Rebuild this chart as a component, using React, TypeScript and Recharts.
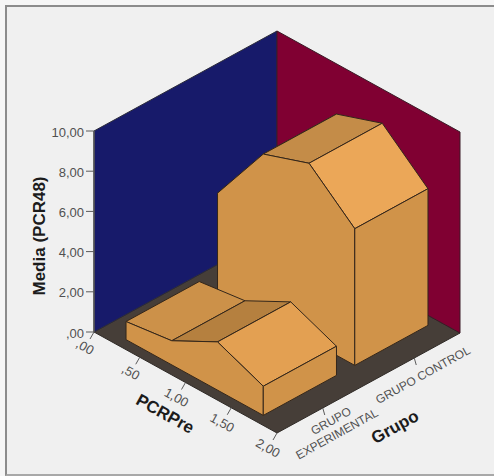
import React from 'react';
import { ScatterChart, Scatter, XAxis, YAxis } from 'recharts';

const pcrPreCenters = [0.25, 0.75, 1.25, 1.75];
const experimentalMeans = [0.9, 1.2, 2.4, 1.45];
const controlMeans = [4.8, 8.0, 8.8, 6.8];

const meanTicks = [0, 2, 4, 6, 8, 10];
const meanTickLabels = [',00', '2,00', '4,00', '6,00', '8,00', '10,00'];
const pcrPreTicks = [0, 0.5, 1, 1.5, 2];
const pcrPreTickLabels = [',00', ',50', '1,00', '1,50', '2,00'];
const grupoTicks = [0.25, 0.75];

// depth of each ribbon along the Grupo axis (0 = front edge, 1 = back edge)
const experimentalBand = [0.05, 0.45];
const controlBand = [0.55, 0.95];

const experimentalTops = ['#cc9149', '#b5803f', '#e3a052'];
const controlTops = ['#c48c48', '#c48c48', '#eba758'];
const wallColor = '#d09349';
const capColor = '#d09349';

const WIDTH = 494;
const HEIGHT = 476;
const SKEW = 29;

type Pt = { x: number; y: number };

// oblique projection from (PCRPre, Grupo, mean) to chart units
const project = (p: number, g: number, v: number): Pt => ({
  x: 94 + p * 91.5 + g * 183,
  y: 332 + p * 50.5 - g * 100 - v * 20.1,
});

const ribbonFaces = (means: number[], band: number[], tops: string[]) => {
  const [near, far] = band;
  const faces: { pts: Pt[]; fill: string }[] = [];
  tops.forEach((fill, i) => {
    faces.push({
      fill,
      pts: [
        project(pcrPreCenters[i], near, means[i]),
        project(pcrPreCenters[i], far, means[i]),
        project(pcrPreCenters[i + 1], far, means[i + 1]),
        project(pcrPreCenters[i + 1], near, means[i + 1]),
      ],
    });
  });
  const last = pcrPreCenters.length - 1;
  faces.push({
    fill: wallColor,
    pts: [
      project(pcrPreCenters[0], near, 0),
      ...pcrPreCenters.map((p, i) => project(p, near, means[i])),
      project(pcrPreCenters[last], near, 0),
    ],
  });
  faces.push({
    fill: capColor,
    pts: [
      project(pcrPreCenters[last], near, 0),
      project(pcrPreCenters[last], near, means[last]),
      project(pcrPreCenters[last], far, means[last]),
      project(pcrPreCenters[last], far, 0),
    ],
  });
  return faces;
};

const noDot = () => <g />;

const Face = ({ pts, fill, stroke }: { pts: Pt[]; fill: string; stroke: string }) => (
  <Scatter
    data={[...pts, pts[0]]}
    isAnimationActive={false}
    shape={noDot}
    legendType="none"
    line={{ fill, stroke, strokeWidth: 1, strokeLinejoin: 'round' }}
  />
);

const Segment = ({ a, b, stroke = '#5a5a5a', width = 1 }: { a: Pt; b: Pt; stroke?: string; width?: number }) => (
  <Scatter
    data={[a, b]}
    isAnimationActive={false}
    shape={noDot}
    legendType="none"
    line={{ stroke, strokeWidth: width, fill: 'none' }}
  />
);

const Caption = ({
  at,
  text,
  angle,
  size = 13,
  bold = false,
  anchor = 'middle',
}: {
  at: Pt;
  text: string;
  angle: number;
  size?: number;
  bold?: boolean;
  anchor?: string;
}) => (
  <Scatter
    data={[at]}
    isAnimationActive={false}
    legendType="none"
    shape={(props: any) => (
      <text
        x={props.cx}
        y={props.cy}
        transform={`rotate(${angle} ${props.cx} ${props.cy})`}
        textAnchor={anchor as any}
        dominantBaseline="central"
        fontFamily="Liberation Sans, Arial, sans-serif"
        fontSize={size}
        fontWeight={bold ? 700 : 400}
        fill={bold ? '#1c1c1c' : '#505050'}
      >
        {text}
      </text>
    )}
  />
);

export default function App() {
  const leftWall = [project(0, 0, 0), project(0, 0, 10), project(0, 1, 10), project(0, 1, 0)];
  const rightWall = [project(0, 1, 0), project(0, 1, 10), project(2, 1, 10), project(2, 1, 0)];
  const floor = [project(0, 0, 0), project(0, 1, 0), project(2, 1, 0), project(2, 0, 0)];
  const faces = [
    ...ribbonFaces(controlMeans, controlBand, controlTops),
    ...ribbonFaces(experimentalMeans, experimentalBand, experimentalTops),
  ];

  return (
    <div style={{ position: 'absolute', left: 0, top: 0, width: WIDTH, height: HEIGHT, background: '#f6f6f6', overflow: 'hidden' }}>
      {/* panel with its frame open on the right */}
      <div
        style={{
          position: 'absolute',
          left: 5,
          top: 5,
          right: 0,
          bottom: 0,
          background: '#f0f0f0',
          borderLeft: '2px solid #8c8c8c',
          borderTop: '2px solid #8c8c8c',
          borderBottom: '2px solid #a8a8a8',
        }}
      />
      <div style={{ position: 'absolute', left: 0, top: 0 }}>
        <ScatterChart width={WIDTH} height={HEIGHT} margin={{ top: 0, right: 0, bottom: 0, left: 0 }}>
          <XAxis type="number" dataKey="x" domain={[0, WIDTH]} hide />
          <YAxis type="number" dataKey="y" domain={[0, HEIGHT]} reversed hide />

          {Face({ pts: floor, fill: '#463e38', stroke: '#2f2a26' })}
          {Face({ pts: leftWall, fill: '#171a6a', stroke: '#2a2a3a' })}
          {Face({ pts: rightWall, fill: '#800032', stroke: '#3a1a26' })}

          {meanTicks.map((v) =>
            Segment({ a: { x: project(0, 0, v).x - 8, y: project(0, 0, v).y }, b: project(0, 0, v) }),
          )}
          {Segment({ a: project(0, 0, 0), b: project(0, 0, 10), width: 1.5 })}
          {pcrPreTicks.map((p) => {
            const o = project(p, 0, 0);
            return Segment({ a: o, b: { x: o.x - 4, y: o.y + 7 } });
          })}
          {grupoTicks.map((g) => {
            const o = project(2, g, 0);
            return Segment({ a: o, b: { x: o.x + 2, y: o.y + 7 } });
          })}

          {faces.map((f) => Face({ pts: f.pts, fill: f.fill, stroke: '#33261a' }))}

          {meanTicks.map((v, i) => {
            const o = project(0, 0, v);
            return Caption({ at: { x: o.x - 10, y: o.y + 1 }, text: meanTickLabels[i], angle: 0, anchor: 'end' });
          })}
          {pcrPreTicks.map((p, i) => {
            const o = project(p, 0, 0);
            return Caption({ at: { x: o.x - 9, y: o.y + 15 }, text: pcrPreTickLabels[i], angle: SKEW });
          })}
          {Caption({ at: { x: 423, y: 375 }, text: 'GRUPO CONTROL', angle: -SKEW, size: 12 })}
          {Caption({ at: { x: 331, y: 421 }, text: 'GRUPO', angle: -SKEW, size: 12 })}
          {Caption({ at: { x: 337, y: 434 }, text: 'EXPERIMENTAL', angle: -SKEW, size: 12 })}

          {Caption({ at: { x: 39, y: 236 }, text: 'Media (PCR48)', angle: -90, size: 17, bold: true })}
          {Caption({ at: { x: 165, y: 414 }, text: 'PCRPre', angle: SKEW, size: 17, bold: true })}
          {Caption({ at: { x: 395, y: 427 }, text: 'Grupo', angle: -SKEW, size: 17, bold: true })}
        </ScatterChart>
      </div>
    </div>
  );
}
